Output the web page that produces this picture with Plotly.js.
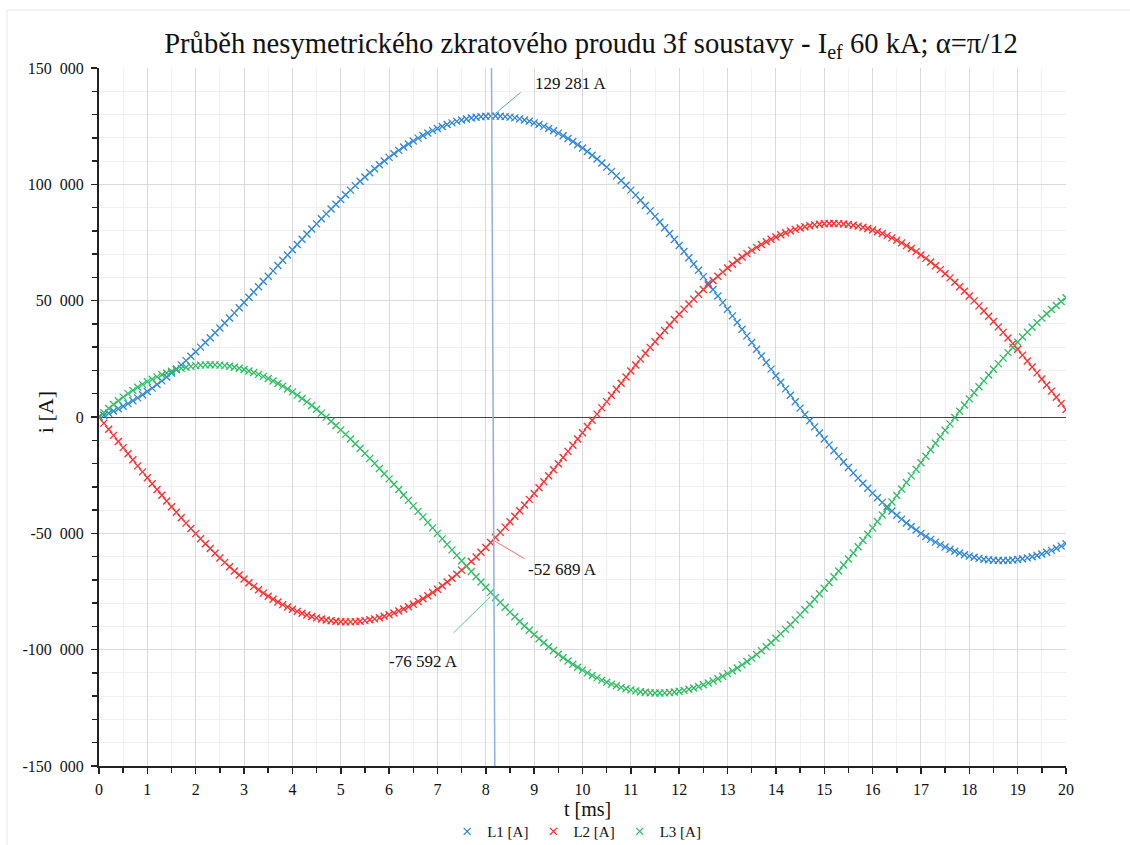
<!DOCTYPE html>
<html>
<head>
<meta charset="utf-8">
<script src="https://cdn.plot.ly/plotly-3.0.1.min.js"></script>
<style>html,body{margin:0;padding:0;background:#fff;}#chart{width:1130px;height:845px;}</style>
</head>
<body>
<div id="chart"></div>
<script>
// time [ms]
const tMs = [0,0.1,0.2,0.3,0.4,0.5,0.6,0.7,0.8,0.9,1,1.1,1.2,1.3,1.4,1.5,1.6,1.7,1.8,1.9,2,2.1,2.2,2.3,2.4,2.5,2.6,2.7,2.8,2.9,3,3.1,3.2,3.3,3.4,3.5,3.6,3.7,3.8,3.9,4,4.1,4.2,4.3,4.4,4.5,4.6,4.7,4.8,4.9,5,5.1,5.2,5.3,5.4,5.5,5.6,5.7,5.8,5.9,6,6.1,6.2,6.3,6.4,6.5,6.6,6.7,6.8,6.9,7,7.1,7.2,7.3,7.4,7.5,7.6,7.7,7.8,7.9,8,8.1,8.2,8.3,8.4,8.5,8.6,8.7,8.8,8.9,9,9.1,9.2,9.3,9.4,9.5,9.6,9.7,9.8,9.9,10,10.1,10.2,10.3,10.4,10.5,10.6,10.7,10.8,10.9,11,11.1,11.2,11.3,11.4,11.5,11.6,11.7,11.8,11.9,12,12.1,12.2,12.3,12.4,12.5,12.6,12.7,12.8,12.9,13,13.1,13.2,13.3,13.4,13.5,13.6,13.7,13.8,13.9,14,14.1,14.2,14.3,14.4,14.5,14.6,14.7,14.8,14.9,15,15.1,15.2,15.3,15.4,15.5,15.6,15.7,15.8,15.9,16,16.1,16.2,16.3,16.4,16.5,16.6,16.7,16.8,16.9,17,17.1,17.2,17.3,17.4,17.5,17.6,17.7,17.8,17.9,18,18.1,18.2,18.3,18.4,18.5,18.6,18.7,18.8,18.9,19,19.1,19.2,19.3,19.4,19.5,19.6,19.7,19.8,19.9,20];

// phase currents [A]
const iL1 = [0,781,1635,2562,3559,4625,5759,6960,8224,9552,
10940,12416,13950,15540,17182,18876,20618,22408,24244,26122,
28040,30022,32042,34094,36176,38288,40425,42585,44766,46966,
49181,51435,53699,55971,58248,60528,62808,65085,67357,69621,
71875,74139,76388,78618,80828,83014,85174,87306,89407,91476,
93507,95524,97500,99434,101323,103164,104956,106697,108385,110017,
111592,113129,114604,116017,117365,118648,119862,121007,122082,123083,
124013,124886,125685,126406,127050,127615,128100,128504,128828,129070,
129229,129325,129337,129266,129111,128873,128550,128145,127656,127082,
126426,125705,124902,124016,123050,122003,120877,119671,118388,117028,
115593,114098,112532,110892,109181,107403,105555,103641,101663,99623,
97521,95375,93172,90913,88602,86238,83826,81367,78862,76315,
73727,71117,68470,65789,63079,60340,57575,54787,51977,49150,
46307,43464,40610,37750,34883,32014,29145,26278,23418,20564,
17721,14904,12102,9319,6557,3818,1104,-1580,-4234,-6856,
-9440,-11976,-14471,-16924,-19331,-21691,-24002,-26262,-28468,-30620,
-32713,-34736,-36699,-38598,-40433,-42203,-43903,-45535,-47096,-48585,
-50001,-51331,-52586,-53764,-54865,-55887,-56829,-57690,-58471,-59169,
-59785,-60309,-60750,-61108,-61381,-61571,-61677,-61700,-61640,-61495,
-61267,-60948,-60547,-60063,-59499,-58855,-58131,-57327,-56446,-55488,
-54455];

const iL2 = [0,-2636,-5275,-7912,-10546,-13174,-15792,-18400,-20993,-23570,
-26129,-28667,-31180,-33667,-36126,-38551,-40943,-43300,-45617,-47892,
-50124,-52313,-54453,-56544,-58583,-60567,-62496,-64366,-66177,-67927,
-69613,-71234,-72790,-74277,-75694,-77041,-78314,-79514,-80639,-81688,
-82659,-83554,-84370,-85106,-85761,-86335,-86827,-87237,-87564,-87807,
-87967,-88045,-88039,-87949,-87776,-87518,-87178,-86756,-86249,-85662,
-84992,-84244,-83414,-82505,-81518,-80454,-79313,-78097,-76806,-75442,
-74008,-72503,-70929,-69289,-67584,-65814,-63982,-62089,-60138,-58131,
-56068,-53954,-51790,-49576,-47316,-45012,-42667,-40281,-37858,-35402,
-32912,-30393,-27847,-25276,-22682,-20068,-17437,-14791,-12133,-9465,
-6790,-4112,-1432,1247,3924,6593,9254,11903,14539,17157,
19758,22335,24887,27414,29912,32376,34808,37204,39560,41875,
44146,46372,48549,50677,52753,54774,56739,58647,60494,62281,
64004,65660,67250,68772,70223,71605,72912,74147,75307,76391,
77396,78324,79172,79941,80628,81234,81759,82202,82561,82836,
83029,83137,83162,83103,82960,82733,82423,82031,81555,80998,
80359,79639,78838,77958,76999,75964,74851,73664,72402,71066,
69661,68183,66636,65023,63344,61601,59796,57930,56005,54025,
51989,49901,47761,45573,43338,41059,38739,36379,33981,31549,
29085,26590,24067,21519,18950,16359,13752,11129,8495,5850,
3199];

const iL3 = [0,1855,3640,5350,6987,8549,10033,11440,12769,14018,
15189,16251,17230,18127,18944,19675,20325,20892,21373,21770,
22084,22291,22411,22450,22407,22279,22071,21781,21411,20961,
20432,19799,19091,18306,17446,16513,15506,14429,13282,12067,
10784,9415,7982,6488,4933,3321,1653,-69,-1843,-3669,
-5540,-7479,-9461,-11485,-13547,-15646,-17778,-19941,-22136,-24355,
-26600,-28885,-31190,-33512,-35847,-38194,-40549,-42910,-45276,-47641,
-50005,-52383,-54756,-57117,-59466,-61801,-64118,-66415,-68690,-70939,
-73161,-75371,-77547,-79690,-81795,-83861,-85883,-87864,-89798,-91680,
-93514,-95312,-97055,-98740,-100368,-101935,-103440,-104880,-106255,-107563,
-108803,-109986,-111100,-112139,-113105,-113996,-114809,-115544,-116202,-116780,
-117279,-117710,-118059,-118327,-118514,-118614,-118634,-118571,-118422,-118190,
-117873,-117489,-117019,-116466,-115832,-115114,-114314,-113434,-112471,-111431,
-110311,-109124,-107860,-106522,-105106,-103619,-102057,-100425,-98725,-96955,
-95117,-93228,-91274,-89260,-87185,-85052,-82863,-80622,-78327,-75980,
-73589,-71161,-68691,-66179,-63629,-61042,-58421,-55769,-53087,-50378,
-47646,-44903,-42139,-39360,-36566,-33761,-30948,-28129,-25306,-22481,
-19660,-16852,-14050,-11259,-8479,-5714,-2967,-240,2466,5144,
7796,10408,12989,15535,18043,20512,22938,25321,27659,29946,
32182,34358,36480,38544,40549,42496,44379,46198,47951,49638,
51256];

const seriesNames = ["L1 [A]", "L2 [A]", "L3 [A]"];
const yTickVals = [-150000,-100000,-50000,0,50000,100000,150000];
const yTickText = ["-150\u2002000","-100\u2002000","-50\u2002000","0","50\u2002000","100\u2002000","150\u2002000"];

// cursor readout
const cursorT = 8.13;
const cursorSpan = [8.118, 8.186];   // top / bottom of the drawn cursor line
const cursorValues = [129281, -52689, -76592];
const cursorLabels = ["129 281 A", "-52 689 A", "-76 592 A"];

const colors = ["#2f86d8", "#ff2b2b", "#2dbd62"];
const leaderColors = ["#5d9fe3", "#ff6a6a", "#55cc80"];
const FONT = "'Liberation Serif', 'DejaVu Serif', serif";

const ys = [iL1, iL2, iL3];
const traces = ys.map((y, k) => ({
  x: tMs, y: y, name: seriesNames[k], type: "scatter", mode: "markers",
  marker: {symbol: "x-thin", size: 7, color: colors[k], line: {color: colors[k], width: 1.3}},
  cliponaxis: true
}));

const arrowOff = [[30, -25, 4], [34, 20, 3], [-40, 39, 2]];
const textOff = [[41, 33, "left"], [34, -30, "left"], [-32, -66, "right"]];
const annotations = [];
for (let k = 0; k < 3; k++) {
  annotations.push({
    x: cursorT, y: cursorValues[k], xref: "x", yref: "y", text: "",
    showarrow: true, arrowhead: 0, arrowwidth: 1, arrowcolor: leaderColors[k],
    ax: arrowOff[k][0], ay: arrowOff[k][1], standoff: arrowOff[k][2]
  });
  annotations.push({
    x: cursorT, y: cursorValues[k], xref: "x", yref: "y", text: cursorLabels[k],
    showarrow: false, xanchor: textOff[k][2], yanchor: "middle",
    xshift: textOff[k][0], yshift: textOff[k][1],
    font: {family: FONT, size: 17, color: "#111"}
  });
}
annotations.push({
  xref: "paper", yref: "paper", x: -0.0558, y: 0.507, text: "i [A]", textangle: -90,
  showarrow: false, xanchor: "center", yanchor: "middle",
  font: {family: FONT, size: 22, color: "#111"}
});
annotations.push({
  xref: "paper", yref: "paper", x: 0.5047, y: -0.0615, text: "t [ms]",
  showarrow: false, xanchor: "center", yanchor: "middle",
  font: {family: FONT, size: 20, color: "#111"}
});

const layout = {
  width: 1130, height: 845,
  margin: {l: 99, r: 64, t: 68, b: 79, autoexpand: false},
  paper_bgcolor: "#ffffff", plot_bgcolor: "#ffffff",
  font: {family: FONT, size: 16, color: "#111"},
  title: {
    text: "Průběh nesymetrického zkratového proudu 3f soustavy - I<sub>ef</sub> 60 kA; α=π/12",
    font: {family: FONT, size: 28.6, color: "#111"},
    x: 0.523, xref: "container", xanchor: "center",
    y: 0.949, yref: "container", yanchor: "middle"
  },
  xaxis: {
    range: [0, 20], dtick: 1, tick0: 0,
    showline: true, linecolor: "#222", linewidth: 2,
    ticks: "outside", ticklen: 6, tickwidth: 1.5, tickcolor: "#222",
    ticklabelstandoff: 2,
    showgrid: true, gridcolor: "#dadada", gridwidth: 1,
    zeroline: false,
    minor: {dtick: 0.5, ticks: "outside", ticklen: 5, tickwidth: 1.5, tickcolor: "#222", showgrid: true, gridcolor: "#f0f0f0", gridwidth: 1},
    tickfont: {family: FONT, size: 16, color: "#111"}
  },
  yaxis: {
    range: [-150000, 150000], tickvals: yTickVals, ticktext: yTickText,
    showline: true, linecolor: "#222", linewidth: 2,
    ticks: "outside", ticklen: 6, tickwidth: 1.5, tickcolor: "#222",
    ticklabelstandoff: 4,
    showgrid: true, gridcolor: "#dadada", gridwidth: 1,
    zeroline: true, zerolinecolor: "#444", zerolinewidth: 1,
    minor: {dtick: 10000, tick0: 0, ticks: "outside", ticklen: 5, tickwidth: 1.5, tickcolor: "#222", showgrid: true, gridcolor: "#f0f0f0", gridwidth: 1},
    tickfont: {family: FONT, size: 16, color: "#111"}
  },
  showlegend: true,
  legend: {
    orientation: "h", x: 0.494, xanchor: "center", y: -0.094, yanchor: "middle",
    font: {family: FONT, size: 15, color: "#111"}, itemwidth: 30,
    bgcolor: "rgba(0,0,0,0)"
  },
  shapes: [
    {type: "line", xref: "x", yref: "paper", x0: cursorSpan[0], x1: cursorSpan[1], y0: 1, y1: 0,
     line: {color: "#8fb0e6", width: 1.5}, layer: "above"},
    {type: "line", xref: "paper", yref: "paper", x0: -0.0951, x1: 1.1, y0: 1.0831, y1: 1.0831,
     line: {color: "#e8e8e8", width: 1}},
    {type: "line", xref: "paper", yref: "paper", x0: -0.0951, x1: -0.0951, y0: 1.0831, y1: -0.2,
     line: {color: "#e8e8e8", width: 1}}
  ],
  annotations: annotations
};

Plotly.newPlot("chart", traces, layout, {displayModeBar: false, staticPlot: true});
</script>
</body>
</html>
